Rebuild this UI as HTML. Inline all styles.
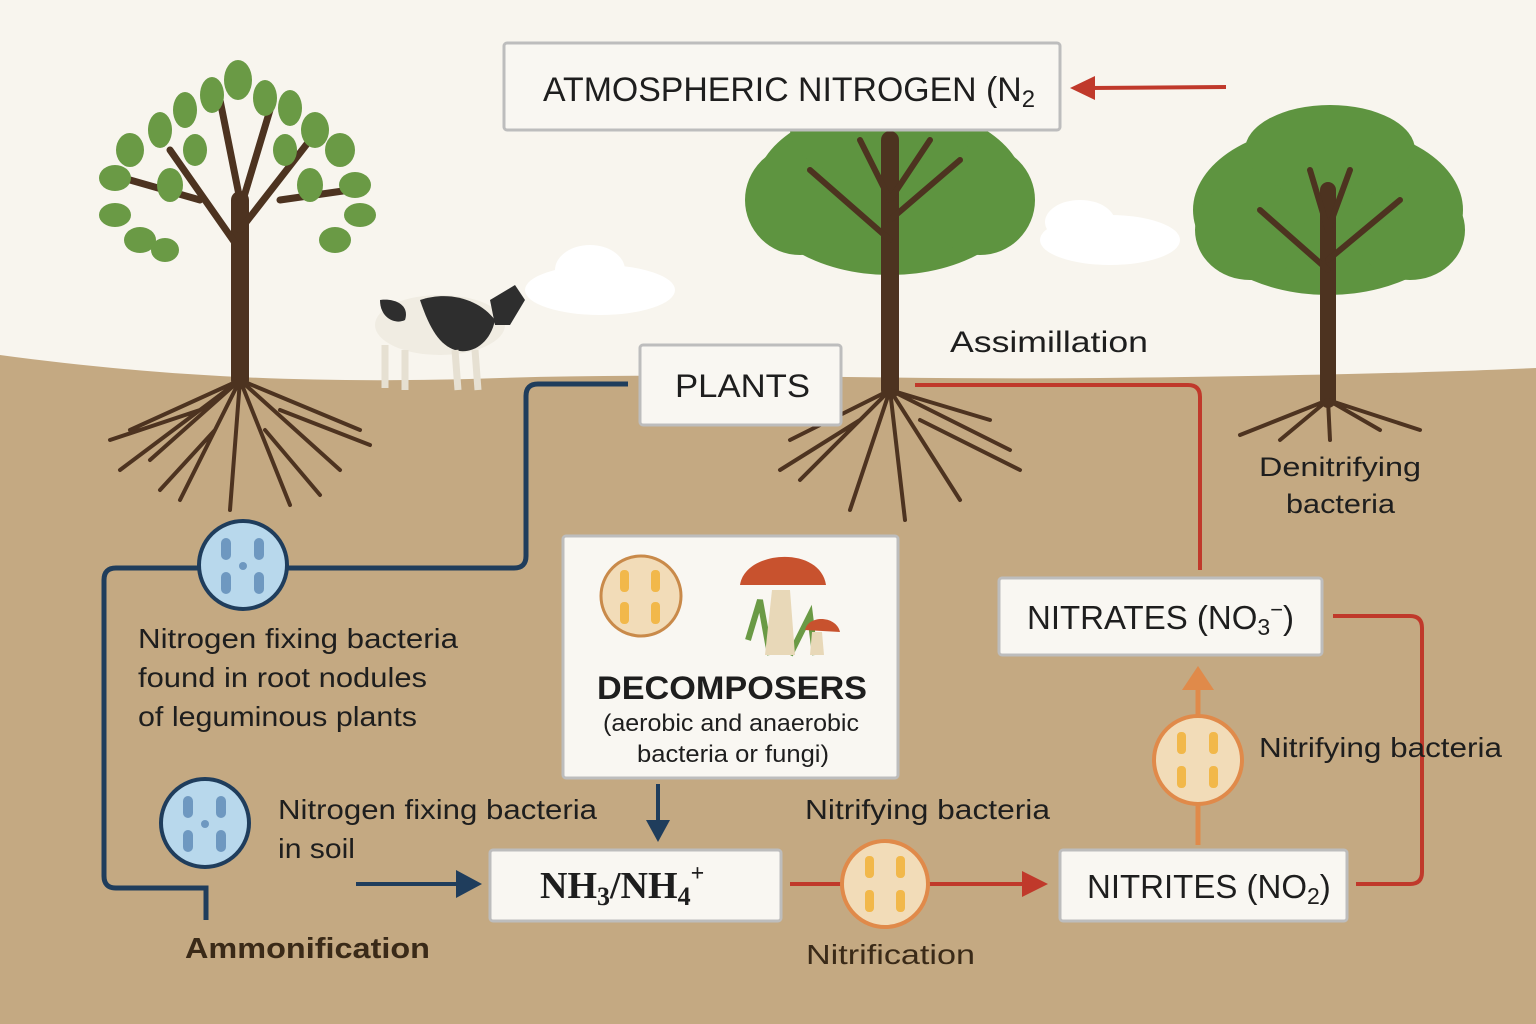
<!DOCTYPE html>
<html><head><meta charset="utf-8"><style>
html,body{margin:0;padding:0;width:1536px;height:1024px;overflow:hidden;background:#f8f5ee}
svg{display:block}
text{font-family:"Liberation Sans","DejaVu Sans",sans-serif;fill:#1e1e1e}
</style></head><body>
<svg width="1536" height="1024" viewBox="0 0 1536 1024">
<rect width="1536" height="1024" fill="#f8f5ee"/>
<path d="M0,355 C150,375 300,385 500,378 C700,372 900,380 1100,378 C1300,376 1450,372 1536,368 L1536,1024 L0,1024 z" fill="#c4a982"/>
<g fill="#ffffff">
<ellipse cx="600" cy="290" rx="75" ry="25"/><ellipse cx="590" cy="270" rx="35" ry="25"/>
<ellipse cx="1110" cy="240" rx="70" ry="25"/><ellipse cx="1080" cy="222" rx="35" ry="22"/>
</g>
<!-- Left tree -->
<g stroke="#4d3320" fill="none" stroke-linecap="round">
<path d="M240,380 L240,200" stroke-width="18"/>
<path d="M240,250 L170,150 M240,230 L310,140 M240,200 L220,100 M240,210 L270,110 M200,200 L130,180 M280,200 L350,190" stroke-width="7"/>
<path d="M240,380 L130,430 M240,380 L120,470 M240,380 L180,500 M240,380 L230,510 M240,380 L290,505 M240,380 L340,470 M240,380 L360,430 M240,380 L150,460 M200,410 L110,440 M280,410 L370,445 M215,430 L160,490 M265,430 L320,495" stroke-width="4"/>
</g>
<g fill="#6a9a45">
<ellipse cx="238" cy="80" rx="14" ry="20"/><ellipse cx="212" cy="95" rx="12" ry="18"/><ellipse cx="265" cy="98" rx="12" ry="18"/>
<ellipse cx="185" cy="110" rx="12" ry="18"/><ellipse cx="290" cy="108" rx="12" ry="18"/><ellipse cx="160" cy="130" rx="12" ry="18"/>
<ellipse cx="315" cy="130" rx="14" ry="18"/><ellipse cx="130" cy="150" rx="14" ry="17"/><ellipse cx="340" cy="150" rx="15" ry="17"/>
<ellipse cx="115" cy="178" rx="16" ry="13"/><ellipse cx="355" cy="185" rx="16" ry="13"/><ellipse cx="115" cy="215" rx="16" ry="12"/>
<ellipse cx="360" cy="215" rx="16" ry="12"/><ellipse cx="140" cy="240" rx="16" ry="13"/><ellipse cx="335" cy="240" rx="16" ry="13"/>
<ellipse cx="165" cy="250" rx="14" ry="12"/><ellipse cx="310" cy="185" rx="13" ry="17"/><ellipse cx="170" cy="185" rx="13" ry="17"/>
<ellipse cx="195" cy="150" rx="12" ry="16"/><ellipse cx="285" cy="150" rx="12" ry="16"/>
</g>
<!-- Middle tree -->
<g fill="#5e9440">
<ellipse cx="890" cy="190" rx="135" ry="85"/><ellipse cx="800" cy="200" rx="55" ry="55"/><ellipse cx="980" cy="200" rx="55" ry="55"/>
<ellipse cx="880" cy="130" rx="90" ry="50"/>
</g>
<g stroke="#4d3320" fill="none" stroke-linecap="round">
<path d="M890,390 L890,140" stroke-width="18"/>
<path d="M890,240 L810,170 M890,220 L960,160 M890,200 L860,140 M890,200 L930,140" stroke-width="6"/>
<path d="M890,390 L790,440 M890,390 L800,480 M890,390 L850,510 M890,390 L905,520 M890,390 L960,500 M890,390 L1010,450 M890,390 L990,420 M860,420 L780,470 M920,420 L1020,470" stroke-width="4"/>
</g>
<!-- Right tree -->
<g fill="#5e9440">
<ellipse cx="1328" cy="210" rx="135" ry="85"/><ellipse cx="1250" cy="230" rx="55" ry="50"/><ellipse cx="1410" cy="230" rx="55" ry="50"/>
<ellipse cx="1330" cy="150" rx="85" ry="45"/>
</g>
<g stroke="#4d3320" fill="none" stroke-linecap="round">
<path d="M1328,400 L1328,190" stroke-width="16"/>
<path d="M1328,270 L1260,210 M1328,260 L1400,200 M1328,230 L1310,170 M1328,230 L1350,170" stroke-width="6"/>
<path d="M1328,400 L1240,435 M1328,400 L1280,440 M1328,400 L1330,440 M1328,400 L1380,430 M1328,400 L1420,430" stroke-width="4"/>
</g>
<!-- cow -->
<g>
<ellipse cx="440" cy="325" rx="65" ry="30" fill="#f0ece2"/>
<path d="M420,300 C450,290 480,300 495,320 C490,345 470,355 455,350 C440,345 430,330 420,300z" fill="#2e2e2e"/>
<path d="M380,300 C395,298 410,305 405,320 C395,325 380,318 380,300z" fill="#2e2e2e"/>
<path d="M490,300 L515,285 L525,300 L510,325 L495,325z" fill="#2e2e2e"/>
<g stroke="#e6e0d2" stroke-width="7"><line x1="385" y1="345" x2="385" y2="388"/><line x1="405" y1="350" x2="405" y2="390"/><line x1="455" y1="350" x2="458" y2="390"/><line x1="475" y1="350" x2="478" y2="390"/></g>
</g>
<!-- title -->
<rect x="504" y="43" width="556" height="87" rx="3" fill="#f9f7f2" stroke="#bdbdbd" stroke-width="3"/>
<text x="543" y="101" font-size="34" textLength="492" lengthAdjust="spacingAndGlyphs">ATMOSPHERIC NITROGEN (N<tspan font-size="24" dy="6">2</tspan></text>
<line x1="1226" y1="87" x2="1090" y2="88" stroke="#c0392b" stroke-width="4"/>
<path d="M1070,88 L1095,76 L1095,100z" fill="#c0392b"/>
<path d="M915,385 L1188,385 Q1200,385 1200,397 L1200,570" stroke="#c0392b" stroke-width="4" fill="none"/>
<text x="950" y="352" font-size="30" textLength="198" lengthAdjust="spacingAndGlyphs">Assimillation</text>
<text x="1259" y="476" font-size="27" textLength="162" lengthAdjust="spacingAndGlyphs">Denitrifying</text>
<text x="1286" y="513" font-size="27" textLength="109" lengthAdjust="spacingAndGlyphs">bacteria</text>
<path d="M628,384 L538,384 Q526,384 526,396 L526,556 Q526,568 514,568 L116,568 Q104,568 104,580 L104,876 Q104,888 116,888 L206,888 L206,920" stroke="#1f3d5c" stroke-width="5" fill="none"/>
<rect x="640" y="345" width="201" height="80" rx="3" fill="#f9f7f2" stroke="#bdbdbd" stroke-width="3"/>
<text x="675" y="397" font-size="32" textLength="135" lengthAdjust="spacingAndGlyphs">PLANTS</text>
<g>
<circle cx="243" cy="565" r="44" fill="#b8d8ec" stroke="#1f3d5c" stroke-width="4"/>
<g fill="#6e98c0"><rect x="221" y="538" width="10" height="22" rx="5"/><rect x="254" y="538" width="10" height="22" rx="5"/><rect x="221" y="572" width="10" height="22" rx="5"/><rect x="254" y="572" width="10" height="22" rx="5"/><circle cx="243" cy="566" r="4"/></g>
<circle cx="205" cy="823" r="44" fill="#b8d8ec" stroke="#1f3d5c" stroke-width="4"/>
<g fill="#6e98c0"><rect x="183" y="796" width="10" height="22" rx="5"/><rect x="216" y="796" width="10" height="22" rx="5"/><rect x="183" y="830" width="10" height="22" rx="5"/><rect x="216" y="830" width="10" height="22" rx="5"/><circle cx="205" cy="824" r="4"/></g>
</g>
<text font-size="28" x="138" y="648" textLength="320" lengthAdjust="spacingAndGlyphs">Nitrogen fixing bacteria</text>
<text font-size="28" x="138" y="687" textLength="289" lengthAdjust="spacingAndGlyphs">found in root nodules</text>
<text font-size="28" x="138" y="726" textLength="279" lengthAdjust="spacingAndGlyphs">of leguminous plants</text>
<text font-size="28" x="278" y="819" textLength="319" lengthAdjust="spacingAndGlyphs">Nitrogen fixing bacteria</text>
<text font-size="28" x="278" y="858" textLength="77" lengthAdjust="spacingAndGlyphs">in soil</text>
<text x="185" y="958" font-size="29" font-weight="bold" style="fill:#3a2a18" textLength="245" lengthAdjust="spacingAndGlyphs">Ammonification</text>
<rect x="563" y="536" width="335" height="242" rx="3" fill="#f9f7f2" stroke="#bdbdbd" stroke-width="3"/>
<circle cx="641" cy="596" r="40" fill="#f2dcb8" stroke="#c98a4a" stroke-width="3"/>
<g fill="#f2b84a"><rect x="620" y="570" width="9" height="22" rx="4"/><rect x="651" y="570" width="9" height="22" rx="4"/><rect x="620" y="602" width="9" height="22" rx="4"/><rect x="651" y="602" width="9" height="22" rx="4"/></g>
<path d="M748,640 L760,600 L770,655 M790,655 L810,615 L815,655" stroke="#6a9a45" stroke-width="6" fill="none"/>
<path d="M772,590 L790,590 L795,655 L765,655z" fill="#e8d8b8"/>
<path d="M740,585 C745,550 820,545 826,585z" fill="#c8522e"/>
<path d="M812,632 L822,632 L824,655 L810,655z" fill="#e8d8b8"/>
<path d="M805,630 C808,615 836,615 840,632z" fill="#c8522e"/>
<text x="597" y="699" font-size="32" font-weight="bold" textLength="270" lengthAdjust="spacingAndGlyphs">DECOMPOSERS</text>
<text x="603" y="731" font-size="24" textLength="256" lengthAdjust="spacingAndGlyphs">(aerobic and anaerobic</text>
<text x="637" y="762" font-size="24" textLength="192" lengthAdjust="spacingAndGlyphs">bacteria or fungi)</text>
<line x1="658" y1="784" x2="658" y2="825" stroke="#1f3d5c" stroke-width="4"/>
<path d="M646,820 L670,820 L658,842z" fill="#1f3d5c"/>
<line x1="356" y1="884" x2="460" y2="884" stroke="#1f3d5c" stroke-width="4"/>
<path d="M456,870 L482,884 L456,898z" fill="#1f3d5c"/>
<rect x="490" y="850" width="291" height="71" rx="3" fill="#f9f7f2" stroke="#bdbdbd" stroke-width="3"/>
<text x="540" y="898" font-size="38" style="font-family:'Liberation Serif',serif;font-weight:bold">NH<tspan font-size="26" dy="7">3</tspan><tspan dy="-7">/NH</tspan><tspan font-size="26" dy="7">4</tspan><tspan font-size="24" dy="-24">+</tspan></text>
<line x1="790" y1="884" x2="1025" y2="884" stroke="#c0392b" stroke-width="4"/>
<path d="M1022,871 L1048,884 L1022,897z" fill="#c0392b"/>
<circle cx="885" cy="884" r="43" fill="#f2dcb8" stroke="#e08a4a" stroke-width="4"/>
<g fill="#f2b84a"><rect x="865" y="856" width="9" height="22" rx="4"/><rect x="896" y="856" width="9" height="22" rx="4"/><rect x="865" y="890" width="9" height="22" rx="4"/><rect x="896" y="890" width="9" height="22" rx="4"/></g>
<text x="805" y="819" font-size="28" textLength="245" lengthAdjust="spacingAndGlyphs">Nitrifying bacteria</text>
<text x="806" y="964" font-size="28" style="fill:#3a2a18" textLength="169" lengthAdjust="spacingAndGlyphs">Nitrification</text>
<rect x="1060" y="850" width="287" height="71" rx="3" fill="#f9f7f2" stroke="#bdbdbd" stroke-width="3"/>
<text x="1087" y="898" font-size="33">NITRITES (NO<tspan font-size="23" dy="6">2</tspan><tspan dy="-6">)</tspan></text>
<path d="M1356,884 L1410,884 Q1422,884 1422,872 L1422,628 Q1422,616 1410,616 L1333,616" stroke="#c0392b" stroke-width="4" fill="none"/>
<line x1="1198" y1="845" x2="1198" y2="690" stroke="#e08a4a" stroke-width="5"/>
<path d="M1182,690 L1214,690 L1198,666z" fill="#e08a4a"/>
<circle cx="1198" cy="760" r="44" fill="#f2dcb8" stroke="#e08a4a" stroke-width="4"/>
<g fill="#f2b84a"><rect x="1177" y="732" width="9" height="22" rx="4"/><rect x="1209" y="732" width="9" height="22" rx="4"/><rect x="1177" y="766" width="9" height="22" rx="4"/><rect x="1209" y="766" width="9" height="22" rx="4"/></g>
<text x="1259" y="757" font-size="28" textLength="243" lengthAdjust="spacingAndGlyphs">Nitrifying bacteria</text>
<rect x="999" y="578" width="323" height="77" rx="3" fill="#f9f7f2" stroke="#bdbdbd" stroke-width="3"/>
<text x="1027" y="629" font-size="33">NITRATES (NO<tspan font-size="23" dy="6">3</tspan><tspan font-size="22" dy="-18">−</tspan><tspan dy="12">)</tspan></text>
</svg>
</body></html>
